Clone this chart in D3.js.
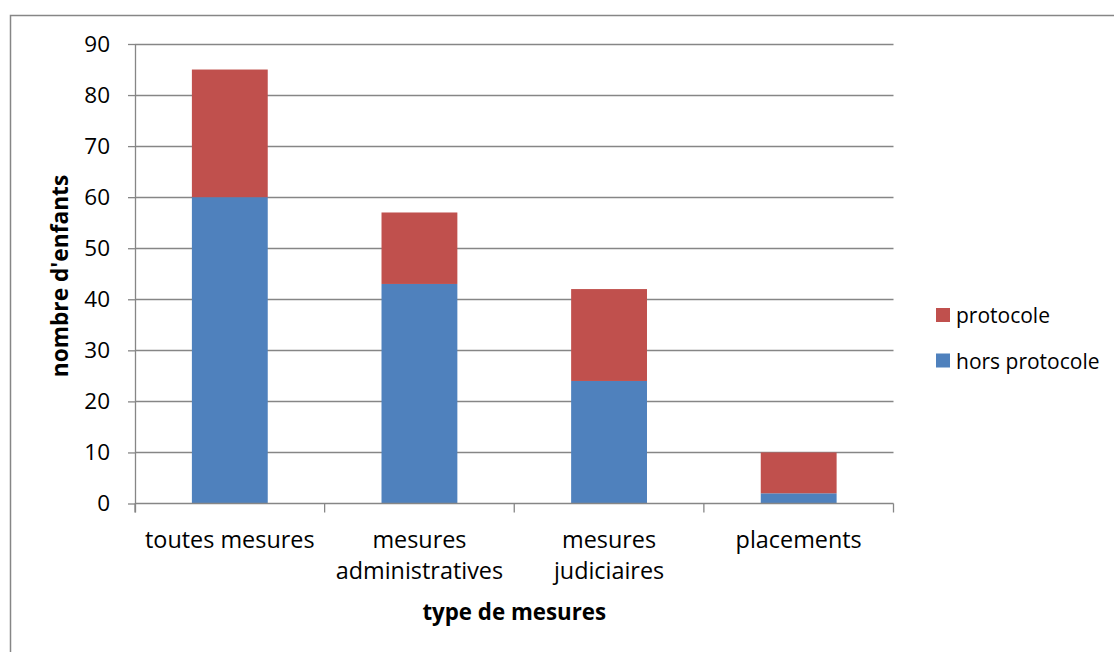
<!DOCTYPE html>
<html>
<head>
<meta charset="utf-8">
<script src="https://cdn.jsdelivr.net/npm/d3@7"></script>
<style>
  html, body { margin: 0; padding: 0; background: #ffffff; }
  svg { display: block; }
  text { font-family: "Open Sans", "DejaVu Sans", sans-serif; fill: #000; }
</style>
</head>
<body>
<svg id="chart" width="1114" height="652"></svg>
<script>
// ---- data ----
const categories = ["toutes mesures", "mesures\nadministratives", "mesures\njudiciaires", "placements"];
const horsProtocole = [60, 43, 24, 2];
const protocole = [25, 14, 18, 8];
const seriesNames = ["hors protocole", "protocole"];
const seriesColors = ["#4F81BD", "#C0504D"];
const yTicks = [0, 10, 20, 30, 40, 50, 60, 70, 80, 90];
const xTitle = "type de mesures";
const yTitle = "nombre d'enfants";

// ---- layout ----
const svg = d3.select("#chart");
const plot = { left: 135, right: 893.5, top: 44, bottom: 503.5 };
const axisColor = "#868686";

// outer chart border
svg.append("rect")
  .attr("x", 10.5).attr("y", 15.5)
  .attr("width", 1120).attr("height", 660)
  .attr("fill", "none").attr("stroke", axisColor).attr("stroke-width", 1.5);

const x = d3.scaleBand()
  .domain(categories)
  .range([plot.left, plot.right])
  .paddingInner(0.6)
  .paddingOuter(0.3);

const y = d3.scaleLinear().domain([0, 90]).range([plot.bottom, plot.top]);

// gridlines
svg.append("g")
  .selectAll("line")
  .data(yTicks.filter(d => d > 0))
  .join("line")
  .attr("x1", plot.left).attr("x2", plot.right)
  .attr("y1", d => Math.round(y(d)) + 0.5).attr("y2", d => Math.round(y(d)) + 0.5)
  .attr("stroke", axisColor).attr("stroke-width", 1.3);

// stacked bars
const stackData = categories.map((c, i) => ({ cat: c, "hors protocole": horsProtocole[i], "protocole": protocole[i] }));
const stacked = d3.stack().keys(seriesNames)(stackData);

svg.append("g")
  .selectAll("g")
  .data(stacked)
  .join("g")
  .attr("fill", (d, i) => seriesColors[i])
  .selectAll("rect")
  .data(d => d)
  .join("rect")
  .attr("x", d => x(d.data.cat))
  .attr("width", x.bandwidth())
  .attr("y", d => y(d[1]))
  .attr("height", d => y(d[0]) - y(d[1]));

// y axis
const yAxis = d3.axisLeft(y).tickValues(yTicks).tickSize(7).tickPadding(18).tickFormat(d3.format("d"));
const gy = svg.append("g")
  .attr("transform", `translate(${plot.left},0)`)
  .call(yAxis);
gy.select(".domain").remove();
gy.selectAll(".tick line").attr("stroke", axisColor).attr("stroke-width", 1.3);
gy.selectAll(".tick text")
  .style("font-family", '"Open Sans", sans-serif')
  .style("font-size", "22.5px")
  .attr("fill", "#000");
svg.append("line")
  .attr("x1", plot.left + 0.5).attr("x2", plot.left + 0.5)
  .attr("y1", plot.top).attr("y2", plot.bottom + 9)
  .attr("stroke", axisColor).attr("stroke-width", 1.3);

// x axis line + boundary ticks
svg.append("line")
  .attr("x1", plot.left).attr("x2", plot.right)
  .attr("y1", plot.bottom).attr("y2", plot.bottom)
  .attr("stroke", axisColor).attr("stroke-width", 1.5);
const boundaryX = [plot.left]
  .concat(categories.slice(1).map(c => x(c) - x.step() * x.paddingInner() / 2))
  .concat([plot.right]);
svg.append("g")
  .selectAll("line")
  .data(boundaryX)
  .join("line")
  .attr("x1", d => d).attr("x2", d => d)
  .attr("y1", plot.bottom).attr("y2", plot.bottom + 9)
  .attr("stroke", axisColor).attr("stroke-width", 1.3);

// category labels
const catG = svg.append("g");
categories.forEach(c => {
  const lines = c.split("\n");
  const t = catG.append("text")
    .attr("x", x(c) + x.bandwidth() / 2)
    .attr("y", 548)
    .attr("text-anchor", "middle")
    .style("font-size", "23.4px");
  lines.forEach((ln, j) => {
    t.append("tspan")
      .attr("x", x(c) + x.bandwidth() / 2)
      .attr("dy", j === 0 ? 0 : 31)
      .text(ln);
  });
});

// axis titles
svg.append("text")
  .attr("x", (plot.left + plot.right) / 2)
  .attr("y", 620)
  .attr("text-anchor", "middle")
  .style("font-size", "22.3px")
  .style("font-weight", "bold")
  .text(xTitle);

svg.append("text")
  .attr("transform", `translate(68,276) rotate(-90)`)
  .attr("text-anchor", "middle")
  .style("font-size", "22.7px")
  .style("font-weight", "bold")
  .text(yTitle);

// legend (protocole first, then hors protocole)
const legendItems = [
  { name: seriesNames[1], color: seriesColors[1] },
  { name: seriesNames[0], color: seriesColors[0] }
];
const lg = svg.append("g").attr("transform", "translate(936,308)");
legendItems.forEach((it, i) => {
  const g = lg.append("g").attr("transform", `translate(0,${i * 45.5})`);
  g.append("rect").attr("width", 14).attr("height", 14).attr("fill", it.color);
  g.append("text").attr("x", 20).attr("y", 15)
    .style("font-size", "21px")
    .text(it.name);
});
</script>
</body>
</html>
